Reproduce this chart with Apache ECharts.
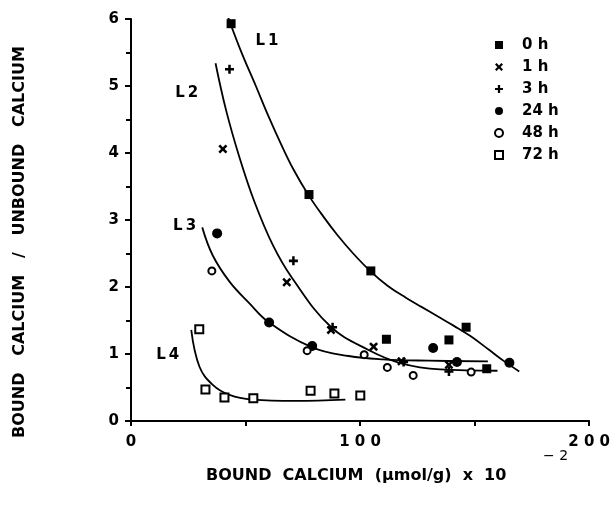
<!DOCTYPE html>
<html><head><meta charset="utf-8">
<script src="https://cdn.jsdelivr.net/npm/echarts@6/dist/echarts.min.js"></script>
<style>html,body{margin:0;padding:0;background:#fff}#c{width:613px;height:505px}</style>
</head><body><div id="c"></div>
<script>
// ---- data ----
const seriesNames = ['0 h', '1 h', '3 h', '24 h', '48 h', '72 h'];
const h0  = [[43.7,5.93],[77.7,3.38],[104.7,2.24],[111.5,1.22],[138.8,1.21],[146.3,1.40],[155.3,0.78]];
const h1  = [[40.1,4.06],[68.0,2.07],[87.3,1.36],[105.9,1.11],[118.1,0.89],[138.8,0.84]];
const h3  = [[43.0,5.25],[70.9,2.39],[88.0,1.40],[119.0,0.88],[138.8,0.74]];
const h24 = [[37.6,2.80],[60.3,1.47],[79.1,1.12],[131.9,1.09],[142.3,0.88],[165.2,0.87]];
const h48 = [[35.3,2.24],[76.9,1.05],[101.8,0.99],[111.9,0.80],[123.2,0.68],[148.5,0.73]];
const h72 = [[29.8,1.37],[32.5,0.47],[40.8,0.35],[53.4,0.34],[78.4,0.45],[88.8,0.41],[100.1,0.38]];

const curveL1 = [[41.5,6.11],[48,5.52],[54.5,5.0],[60,4.55],[65.4,4.14],[71,3.75],[77.7,3.36],[84,3.05],[90,2.78],[97,2.50],[104.7,2.23],[112,2.02],[120,1.84],[127,1.70],[134,1.56],[141,1.42],[148.5,1.26],[156,1.07],[163,0.89],[169.5,0.74]];
const curveL2 = [[36.9,5.34],[41.5,4.64],[47.3,3.94],[53.8,3.28],[62,2.62],[70.4,2.13],[87.1,1.41],[103.7,1.06],[118,0.86],[135,0.77],[160,0.75]];
const curveL3 = [[31.1,2.89],[35.7,2.47],[43,2.08],[51.6,1.76],[60.3,1.47],[79.1,1.10],[95,0.97],[110,0.92],[130,0.90],[155.8,0.89]];
const curveL4 = [[26.3,1.36],[29.9,0.81],[35.7,0.54],[43,0.39],[53,0.32],[71.9,0.30],[93.6,0.32]];

const curveNames = ['L1', 'L2', 'L3', 'L4'];
const curveLabelAt = [[59.4,5.67],[24.3,4.9],[23.4,2.91],[16.0,0.985]];

const xTickLabels = ['0', '100', '200'];
const yTickLabels = ['0', '1', '2', '3', '4', '5', '6'];
const yTitle = 'BOUND   CALCIUM   /   UNBOUND   CALCIUM';
const xTitle = 'BOUND  CALCIUM  (\u00b5mol/g)  x  10';
const xTitleExp = '\u2212 2';

// ---- chart ----
const FONT = '"DejaVu Sans", sans-serif';
const plusPath = 'path://M3.6,0H6.4V3.6H10V6.4H6.4V10H3.6V6.4H0V3.6H3.6Z';
const xPath = 'path://M0,2L2,0L5,3L8,0L10,2L7,5L10,8L8,10L5,7L2,10L0,8L3,5Z';

const pointData = [h0, h1, h3, h24, h48, h72];
const symbols = [
  {symbol: 'rect', size: 9, style: {color: '#000', opacity: 1}},
  {symbol: xPath, size: 9, style: {color: '#000', opacity: 1}},
  {symbol: plusPath, size: 9, style: {color: '#000', opacity: 1}},
  {symbol: 'circle', size: 10, style: {color: '#000', opacity: 1}},
  {symbol: 'circle', size: 7, style: {color: '#fff', borderColor: '#000', borderWidth: 2, opacity: 1}},
  {symbol: 'rect', size: 8, style: {color: '#fff', borderColor: '#000', borderWidth: 2, opacity: 1}}
];

const series = [];
[curveL1, curveL2, curveL3, curveL4].forEach((c, i) => {
  series.push({
    type: 'line', name: curveNames[i], data: c, smooth: 0.4,
    symbol: 'none', silent: true, z: 1,
    lineStyle: {color: '#000', width: 1.8}
  });
});
pointData.forEach((d, i) => {
  series.push({
    type: 'scatter', name: seriesNames[i], data: d, z: 3,
    symbol: symbols[i].symbol, symbolSize: symbols[i].size,
    itemStyle: symbols[i].style
  });
});
series.push({
  type: 'scatter', name: 'curve labels', silent: true, z: 4,
  symbolSize: 0, itemStyle: {opacity: 1},
  data: curveLabelAt.map((p, i) => ({value: p, name: curveNames[i]})),
  label: {show: true, position: 'inside', formatter: p => p.name.replace('L', 'L\u2009'),
          color: '#000', fontSize: 15, fontWeight: 'bold', fontFamily: FONT}
});

const chart = echarts.init(document.getElementById('c'));
chart.setOption({
  animation: false,
  backgroundColor: '#fff',
  grid: {left: 131, right: 20, top: 19, bottom: 84},
  legend: {
    data: seriesNames, orient: 'vertical', left: 489, top: 32,
    itemWidth: 8, itemHeight: 8, itemGap: 6, selectedMode: false,
    textStyle: {color: '#000', fontSize: 15, fontWeight: 'bold', fontFamily: FONT, lineHeight: 16, padding: [0, 0, 0, 14]}
  },
  xAxis: {
    type: 'value', min: 0, max: 200, interval: 50,
    axisLine: {show: true, lineStyle: {color: '#000', width: 2}},
    axisTick: {show: true, length: 5, lineStyle: {color: '#000', width: 2}},
    splitLine: {show: false},
    axisLabel: {
      color: '#000', fontSize: 15, fontWeight: 'bold', fontFamily: FONT, margin: 14,
      formatter: v => xTickLabels.includes(String(v)) ? String(v).split('').join(' ') : ''
    }
  },
  yAxis: {
    type: 'value', min: 0, max: 6, interval: 1,
    axisLine: {show: true, lineStyle: {color: '#000', width: 2}},
    axisTick: {show: true, length: 6, lineStyle: {color: '#000', width: 2}},
    minorTick: {show: true, splitNumber: 2, length: 5, lineStyle: {color: '#000', width: 2}},
    splitLine: {show: false},
    axisLabel: {
      color: '#000', fontSize: 15, fontWeight: 'bold', fontFamily: FONT, margin: 12,
      formatter: v => yTickLabels[Math.round(v)]
    }
  },
  graphic: [
    {type: 'text', left: 206, top: 468,
     style: {text: xTitle, fill: '#000', font: 'bold 16px ' + FONT}},
    {type: 'text', left: 543, top: 449,
     style: {text: xTitleExp, fill: '#000', font: '14px ' + FONT}},
    {type: 'text', x: 20, y: 242, rotation: Math.PI / 2,
     style: {text: yTitle, fill: '#000', font: 'bold 16px ' + FONT, align: 'center', verticalAlign: 'middle'}}
  ],
  series: series
});
</script></body></html>
